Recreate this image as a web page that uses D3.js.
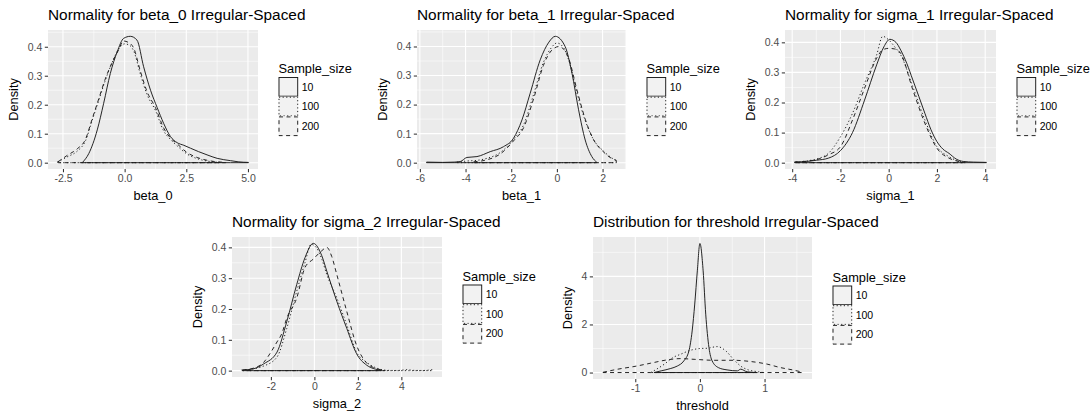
<!DOCTYPE html>
<html>
<head>
<meta charset="utf-8">
<script src="https://cdn.jsdelivr.net/npm/d3@7"></script>
<style>
  body { margin: 0; background: #fff; }
  svg { display: block; font-family: "Liberation Sans", Arial, sans-serif; }
</style>
</head>
<body>
<svg id="chart" width="1092" height="416"></svg>
<script>
// ---- Sample sizes and their line types ----
const sampleSizes = ["10", "100", "200"];

// ---- beta_0 density estimates ----
const beta0_n10_x  = [-1.72, -1.45, -1.11, -0.85, -0.58, -0.30, -0.04, 0.23, 0.50, 0.77, 1.05, 1.32, 1.58, 1.86, 2.13, 2.40, 2.67, 3.00, 3.34, 3.75, 4.29, 4.60, 5.02];
const beta0_n10_y  = [0.000, 0.032, 0.113, 0.205, 0.308, 0.383, 0.429, 0.436, 0.423, 0.331, 0.250, 0.190, 0.136, 0.090, 0.069, 0.060, 0.050, 0.038, 0.027, 0.015, 0.007, 0.003, 0.001];
const beta0_n100_x = [-2.72, -2.33, -1.92, -1.59, -1.32, -1.05, -0.78, -0.51, -0.24, 0.00, 0.20, 0.37, 0.64, 0.91, 1.25, 1.58, 1.86, 2.13, 2.53, 2.94, 3.48, 3.90];
const beta0_n100_y = [0.003, 0.020, 0.040, 0.075, 0.145, 0.215, 0.285, 0.345, 0.392, 0.410, 0.405, 0.385, 0.305, 0.235, 0.180, 0.110, 0.080, 0.058, 0.030, 0.014, 0.004, 0.001];
const beta0_n200_x = [-2.70, -2.33, -1.92, -1.59, -1.32, -1.05, -0.78, -0.51, -0.24, -0.05, 0.15, 0.37, 0.64, 0.91, 1.25, 1.58, 1.86, 2.13, 2.53, 2.94, 3.48, 4.10];
const beta0_n200_y = [0.003, 0.025, 0.048, 0.080, 0.150, 0.220, 0.290, 0.345, 0.390, 0.420, 0.415, 0.395, 0.315, 0.245, 0.190, 0.120, 0.085, 0.065, 0.035, 0.018, 0.006, 0.001];

// ---- beta_1 density estimates ----
const beta1_n10_x  = [-5.71, -5.00, -4.50, -4.23, -3.94, -3.50, -2.92, -2.34, -1.90, -1.53, -1.17, -0.73, -0.35, -0.07, 0.36, 0.66, 0.95, 1.24, 1.53, 1.75];
const beta1_n10_y  = [0.002, 0.001, 0.002, 0.004, 0.018, 0.021, 0.038, 0.055, 0.084, 0.147, 0.239, 0.354, 0.415, 0.435, 0.400, 0.308, 0.182, 0.078, 0.021, 0.001];
const beta1_n100_x = [-4.38, -3.90, -3.50, -3.06, -2.48, -1.90, -1.46, -1.02, -0.59, -0.25, 0.00, 0.30, 0.51, 0.88, 1.24, 1.60, 2.04, 2.41, 2.61];
const beta1_n100_y = [0.002, 0.006, 0.008, 0.015, 0.035, 0.080, 0.130, 0.235, 0.345, 0.395, 0.412, 0.395, 0.355, 0.240, 0.145, 0.080, 0.040, 0.016, 0.007];
const beta1_n200_x = [-3.65, -3.30, -3.06, -2.48, -1.90, -1.46, -1.02, -0.59, -0.25, 0.10, 0.30, 0.51, 0.88, 1.24, 1.60, 2.04, 2.41, 2.60];
const beta1_n200_y = [0.003, 0.006, 0.010, 0.030, 0.075, 0.120, 0.220, 0.335, 0.385, 0.400, 0.390, 0.360, 0.250, 0.150, 0.080, 0.037, 0.014, 0.008];

// ---- sigma_1 density estimates ----
const sigma1_n10_x  = [-3.90, -3.40, -3.00, -2.50, -2.00, -1.50, -1.00, -0.50, -0.20, 0.05, 0.30, 0.50, 0.75, 1.00, 1.25, 1.50, 1.75, 2.00, 2.25, 2.50, 2.80, 3.10, 3.50, 4.05];
const sigma1_n10_y  = [0.002, 0.004, 0.008, 0.015, 0.040, 0.100, 0.208, 0.325, 0.385, 0.410, 0.400, 0.374, 0.330, 0.275, 0.220, 0.164, 0.110, 0.070, 0.045, 0.031, 0.012, 0.004, 0.002, 0.001];
const sigma1_n100_x = [-3.85, -3.40, -3.00, -2.50, -2.00, -1.50, -1.00, -0.50, -0.25, 0.00, 0.25, 0.50, 1.00, 1.50, 2.00, 2.50, 2.80, 3.20];
const sigma1_n100_y = [0.002, 0.006, 0.012, 0.031, 0.086, 0.164, 0.264, 0.358, 0.420, 0.408, 0.385, 0.358, 0.252, 0.142, 0.053, 0.020, 0.008, 0.001];
const sigma1_n200_x = [-3.90, -3.40, -3.00, -2.50, -2.00, -1.50, -1.00, -0.50, -0.25, 0.00, 0.25, 0.50, 1.00, 1.50, 2.00, 2.50, 2.80, 3.10];
const sigma1_n200_y = [0.002, 0.005, 0.010, 0.026, 0.053, 0.142, 0.247, 0.347, 0.375, 0.380, 0.378, 0.363, 0.242, 0.131, 0.048, 0.015, 0.006, 0.001];

// ---- sigma_2 density estimates ----
const sigma2_n10_x  = [-3.30, -2.80, -2.33, -1.72, -1.27, -0.81, -0.43, -0.05, 0.34, 0.57, 1.03, 1.49, 1.94, 2.40, 2.80, 3.10];
const sigma2_n10_y  = [0.002, 0.006, 0.022, 0.060, 0.159, 0.280, 0.367, 0.413, 0.373, 0.323, 0.225, 0.137, 0.055, 0.018, 0.005, 0.001];
const sigma2_n100_x = [-3.35, -2.80, -2.33, -1.72, -1.27, -0.81, -0.43, -0.15, 0.10, 0.34, 0.57, 1.03, 1.49, 1.94, 2.40, 3.00, 3.30, 3.80, 4.30, 4.50, 5.00, 5.43];
const sigma2_n100_y = [0.002, 0.006, 0.015, 0.044, 0.137, 0.258, 0.351, 0.410, 0.398, 0.362, 0.312, 0.236, 0.148, 0.060, 0.027, 0.005, 0.001, 0.0005, 0.003, 0.001, 0.0005, 0.003];
const sigma2_n200_x = [-3.30, -2.80, -2.33, -2.00, -1.72, -1.50, -1.27, -0.81, -0.43, -0.05, 0.34, 0.57, 0.80, 1.03, 1.49, 1.94, 2.40, 2.80, 3.25];
const sigma2_n200_y = [0.002, 0.008, 0.027, 0.060, 0.093, 0.120, 0.170, 0.236, 0.335, 0.362, 0.389, 0.400, 0.370, 0.312, 0.192, 0.082, 0.025, 0.008, 0.001];

// ---- threshold density estimates ----
const thr_n10_x  = [-0.71, -0.60, -0.45, -0.35, -0.25, -0.17, -0.12, -0.08, -0.04, 0.00, 0.05, 0.09, 0.14, 0.19, 0.29, 0.42, 0.58, 0.63, 0.73, 0.88];
const thr_n10_y  = [0.00, 0.07, 0.17, 0.27, 0.48, 0.90, 1.73, 2.85, 4.23, 5.37, 4.23, 2.43, 1.04, 0.48, 0.20, 0.11, 0.07, 0.14, 0.03, 0.00];
const thr_n100_x = [-0.76, -0.55, -0.42, -0.30, -0.14, 0.00, 0.11, 0.27, 0.40, 0.52, 0.63, 0.75, 0.88, 0.98];
const thr_n100_y = [0.00, 0.35, 0.62, 0.76, 0.93, 1.00, 1.01, 1.08, 0.90, 0.55, 0.27, 0.11, 0.04, 0.00];
const thr_n200_x = [-1.50, -1.27, -1.02, -0.76, -0.50, -0.30, -0.09, 0.22, 0.52, 0.78, 1.04, 1.24, 1.45, 1.58];
const thr_n200_y = [0.01, 0.14, 0.25, 0.39, 0.53, 0.58, 0.55, 0.51, 0.51, 0.46, 0.35, 0.21, 0.10, 0.02];

// ---- Axis breaks ----
const beta0XTicks  = [-2.5, 0, 2.5, 5];
const beta1XTicks  = [-6, -4, -2, 0, 2];
const sigma1XTicks = [-4, -2, 0, 2, 4];
const sigma2XTicks = [-2, 0, 2, 4];
const thrXTicks    = [-1, 0, 1];
const densityYTicks = [0, 0.1, 0.2, 0.3, 0.4];
const thrYTicks     = [0, 2, 4];

const zip = (xs, ys) => xs.map((v, i) => [v, ys[i]]);

const panels = [
  { title: "Normality for beta_0 Irregular-Spaced", xName: "beta_0",
    box: [48, 30, 258, 169], xTicks: beta0XTicks, xFmt: d3.format(".1f"),
    yTicks: densityYTicks, yFmt: d3.format(".1f"), yTitleOffset: 34,
    series: [zip(beta0_n10_x, beta0_n10_y), zip(beta0_n100_x, beta0_n100_y), zip(beta0_n200_x, beta0_n200_y)] },
  { title: "Normality for beta_1 Irregular-Spaced", xName: "beta_1",
    box: [417, 30, 626, 169], xTicks: beta1XTicks, xFmt: d3.format("d"),
    yTicks: densityYTicks, yFmt: d3.format(".1f"), yTitleOffset: 34,
    series: [zip(beta1_n10_x, beta1_n10_y), zip(beta1_n100_x, beta1_n100_y), zip(beta1_n200_x, beta1_n200_y)] },
  { title: "Normality for sigma_1 Irregular-Spaced", xName: "sigma_1",
    box: [785, 30, 996, 169], xTicks: sigma1XTicks, xFmt: d3.format("d"),
    yTicks: densityYTicks, yFmt: d3.format(".1f"), yTitleOffset: 34,
    series: [zip(sigma1_n10_x, sigma1_n10_y), zip(sigma1_n100_x, sigma1_n100_y), zip(sigma1_n200_x, sigma1_n200_y)] },
  { title: "Normality for sigma_2 Irregular-Spaced", xName: "sigma_2",
    box: [232, 237, 442, 377], xTicks: sigma2XTicks, xFmt: d3.format("d"),
    yTicks: densityYTicks, yFmt: d3.format(".1f"), yTitleOffset: 34,
    series: [zip(sigma2_n10_x, sigma2_n10_y), zip(sigma2_n100_x, sigma2_n100_y), zip(sigma2_n200_x, sigma2_n200_y)] },
  { title: "Distribution for threshold Irregular-Spaced", xName: "threshold",
    box: [593, 237, 812, 379], xTicks: thrXTicks, xFmt: d3.format("d"),
    yTicks: thrYTicks, yFmt: d3.format("d"), yTitleOffset: 25,
    series: [zip(thr_n10_x, thr_n10_y), zip(thr_n100_x, thr_n100_y), zip(thr_n200_x, thr_n200_y)] }
];

// line types per sample size: solid, dotted, dashed
const dashArray = { "10": null, "100": "1.2,2.4", "200": "4,3.5" };

const svg = d3.select("#chart");
const plainMinus = s => s.replace("\u2212", "-");

// minor breaks halfway between major ones, extended one step past each end
function minorBreaks(ticks, domain) {
  const step = ticks[1] - ticks[0];
  const out = [];
  for (let i = -1; i < ticks.length; i++) {
    const m = ticks[0] + (i + 0.5) * step;
    if (m > domain[0] && m < domain[1]) out.push(m);
  }
  return out;
}

panels.forEach(p => {
  const [L, T, R, B] = p.box;
  const allPts = p.series.flat();
  const xMin = d3.min(allPts, d => d[0]), xMax = d3.max(allPts, d => d[0]);
  const yMax = d3.max(allPts, d => d[1]);
  const xPad = (xMax - xMin) * 0.05, yPad = yMax * 0.05;
  const x = d3.scaleLinear().domain([xMin - xPad, xMax + xPad]).range([L, R]);
  const y = d3.scaleLinear().domain([-yPad, yMax + yPad]).range([B, T]);

  const g = svg.append("g");

  // panel background and grid
  g.append("rect").attr("x", L).attr("y", T).attr("width", R - L).attr("height", B - T).attr("fill", "#EBEBEB");
  const xMinor = minorBreaks(p.xTicks, x.domain());
  const yMinor = minorBreaks(p.yTicks, y.domain());
  g.selectAll(null).data(xMinor).join("line")
    .attr("x1", d => x(d)).attr("x2", d => x(d)).attr("y1", T).attr("y2", B)
    .attr("stroke", "#fff").attr("stroke-width", 0.55);
  g.selectAll(null).data(yMinor).join("line")
    .attr("y1", d => y(d)).attr("y2", d => y(d)).attr("x1", L).attr("x2", R)
    .attr("stroke", "#fff").attr("stroke-width", 0.55);
  g.selectAll(null).data(p.xTicks).join("line")
    .attr("x1", d => x(d)).attr("x2", d => x(d)).attr("y1", T).attr("y2", B)
    .attr("stroke", "#fff").attr("stroke-width", 1.1);
  g.selectAll(null).data(p.yTicks).join("line")
    .attr("y1", d => y(d)).attr("y2", d => y(d)).attr("x1", L).attr("x2", R)
    .attr("stroke", "#fff").attr("stroke-width", 1.1);

  // density outlines (closed along the baseline)
  const area = d3.area().curve(d3.curveMonotoneX)
    .x(d => x(d[0])).y0(y(0)).y1(d => y(d[1]));
  p.series.forEach((s, i) => {
    g.append("path").attr("d", area(s))
      .attr("fill", "none").attr("stroke", "#1a1a1a").attr("stroke-width", 0.95)
      .attr("stroke-linejoin", "round")
      .attr("stroke-dasharray", dashArray[sampleSizes[i]]);
  });

  // axes
  const xAxis = d3.axisBottom(x).tickValues(p.xTicks).tickFormat(d => plainMinus(p.xFmt(d))).tickSize(3.2).tickPadding(2.5);
  const yAxis = d3.axisLeft(y).tickValues(p.yTicks).tickFormat(d => plainMinus(p.yFmt(d))).tickSize(3.2).tickPadding(2.5);
  const gx = g.append("g").attr("transform", `translate(0,${B})`).call(xAxis);
  const gy = g.append("g").attr("transform", `translate(${L},0)`).call(yAxis);
  [gx, gy].forEach(a => {
    a.select(".domain").remove();
    a.selectAll(".tick line").attr("stroke", "#333").attr("stroke-width", 1.05);
    a.selectAll(".tick text").attr("fill", "#4D4D4D").attr("font-size", "10.5px")
      .attr("font-family", "'Liberation Sans', Arial, sans-serif");
  });

  // titles
  g.append("text").attr("x", L).attr("y", T - 10.5).attr("font-size", "15.4px").attr("fill", "#000").text(p.title);
  g.append("text").attr("x", (L + R) / 2).attr("y", B + 30.5).attr("text-anchor", "middle")
    .attr("font-size", "12.8px").attr("fill", "#000").text(p.xName);
  g.append("text").attr("transform", `translate(${L - p.yTitleOffset},${(T + B) / 2}) rotate(-90)`)
    .attr("text-anchor", "middle").attr("dy", "0.35em")
    .attr("font-size", "12.8px").attr("fill", "#000").text("Density");

  // legend
  const key = 19.7;
  const lgX = R + 20.5;
  const keysTop = (T + B) / 2 - 22.5;
  const lg = g.append("g");
  lg.append("text").attr("x", lgX).attr("y", keysTop - 4).attr("font-size", "12.8px").text("Sample_size");
  sampleSizes.forEach((s, i) => {
    const ky = keysTop + i * key;
    lg.append("rect").attr("x", lgX).attr("y", ky).attr("width", key).attr("height", key).attr("fill", "#F2F2F2");
    lg.append("rect").attr("x", lgX + 0.5).attr("y", ky + 0.5).attr("width", key - 1).attr("height", key - 1)
      .attr("fill", "none").attr("stroke", "#1a1a1a").attr("stroke-width", 0.95)
      .attr("stroke-dasharray", dashArray[s]);
    lg.append("text").attr("x", lgX + key + 3.5).attr("y", ky + key / 2).attr("dy", "0.35em")
      .attr("font-size", "10.5px").attr("fill", "#000").text(s);
  });
});
</script>
</body>
</html>
